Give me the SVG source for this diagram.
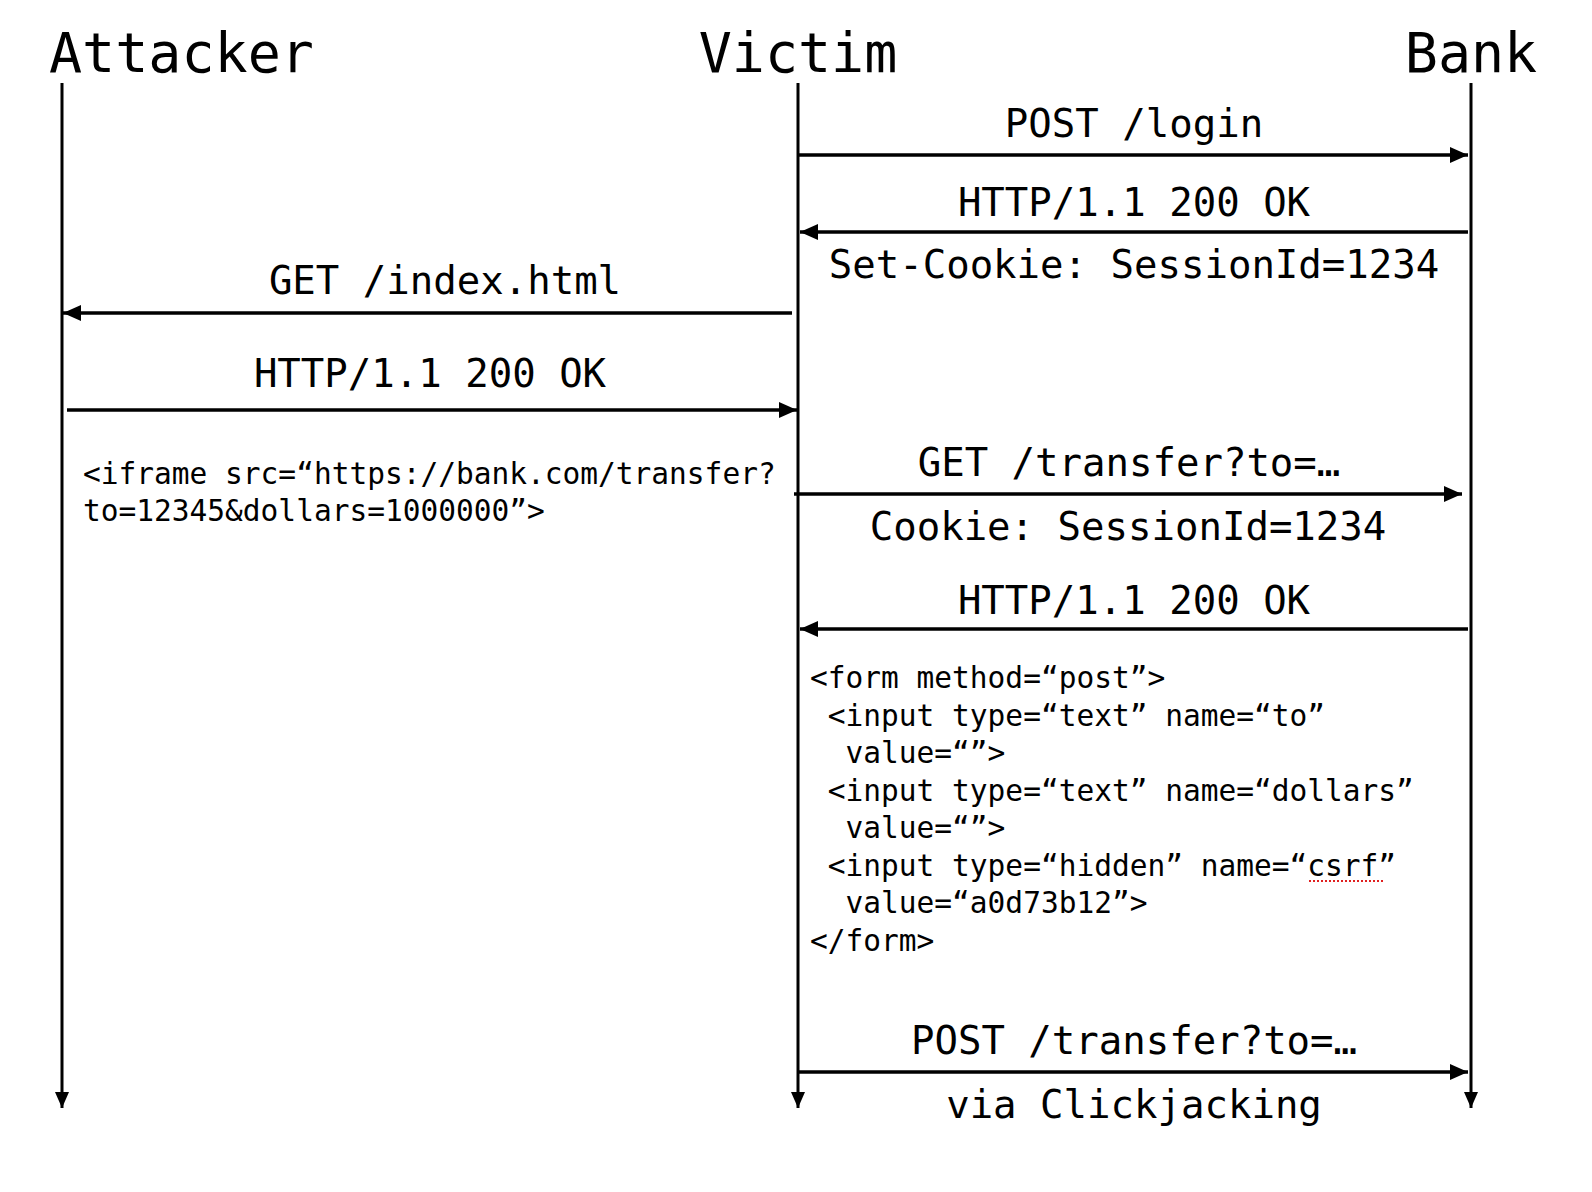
<svg xmlns="http://www.w3.org/2000/svg" width="1592" height="1192" viewBox="0 0 1592 1192">
<style>
  text { font-family: "DejaVu Sans Mono", "Liberation Mono", monospace; fill: #000; }
  .title { font-size: 55px; }
  .msg { font-size: 39px; text-anchor: middle; }
  .code { font-size: 29.5px; white-space: pre; }
  .life { stroke: #000; stroke-width: 3; fill: none; }
  .arrow { stroke: #000; stroke-width: 3.3; fill: none; }
</style>
<defs>
  <marker id="mh" markerUnits="userSpaceOnUse" markerWidth="18" markerHeight="16" refX="18" refY="8" orient="auto">
    <path d="M0,0 L18,8 L0,16 z" fill="#000"/>
  </marker>
  <marker id="lh" markerUnits="userSpaceOnUse" markerWidth="16" markerHeight="14" refX="16" refY="7" orient="auto">
    <path d="M0,0 L16,7 L0,14 z" fill="#000"/>
  </marker>
</defs>
<rect width="1592" height="1192" fill="#fff"/>

<g id="attacker">
  <text class="title" x="49" y="72">Attacker</text>
  <line class="life" x1="62" y1="83" x2="62" y2="1108" marker-end="url(#lh)"/>
</g>
<g id="victim">
  <text class="title" x="798" y="72" text-anchor="middle">Victim</text>
  <line class="life" x1="798" y1="83" x2="798" y2="1108" marker-end="url(#lh)"/>
</g>
<g id="bank">
  <text class="title" x="1471" y="72" text-anchor="middle">Bank</text>
  <line class="life" x1="1471" y1="83" x2="1471" y2="1108" marker-end="url(#lh)"/>
</g>

<g id="connectors">
  <line class="arrow" x1="798" y1="155" x2="1468" y2="155" marker-end="url(#mh)"/>
  <line class="arrow" x1="1468" y1="232" x2="800" y2="232" marker-end="url(#mh)"/>
  <line class="arrow" x1="792" y1="313" x2="63" y2="313" marker-end="url(#mh)"/>
  <line class="arrow" x1="67" y1="410" x2="797" y2="410" marker-end="url(#mh)"/>
  <line class="arrow" x1="794" y1="494" x2="1462" y2="494" marker-end="url(#mh)"/>
  <line class="arrow" x1="1468" y1="629" x2="800" y2="629" marker-end="url(#mh)"/>
  <line class="arrow" x1="798" y1="1072" x2="1468" y2="1072" marker-end="url(#mh)"/>
</g>

<g id="labels">
  <text class="msg" x="1134" y="137">POST /login</text>
  <text class="msg" x="1134" y="216">HTTP/1.1 200 OK</text>
  <text class="msg" x="1134" y="278">Set-Cookie: SessionId=1234</text>
  <text class="msg" x="445" y="294">GET /index.html</text>
  <text class="msg" x="430" y="387">HTTP/1.1 200 OK</text>
  <text class="msg" x="1129" y="476">GET /transfer?to=…</text>
  <text class="msg" x="1128" y="540">Cookie: SessionId=1234</text>
  <text class="msg" x="1134" y="614">HTTP/1.1 200 OK</text>
  <text class="msg" x="1134" y="1054">POST /transfer?to=…</text>
  <text class="msg" x="1134" y="1118">via Clickjacking</text>
</g>

<g id="iframe-code">
  <text class="code" x="83" y="484">&lt;iframe src=“https://bank.com/transfer?</text>
  <text class="code" x="83" y="521">to=12345&amp;dollars=1000000”&gt;</text>
</g>

<g id="form-code">
  <text class="code" x="810" y="688">&lt;form method=“post”&gt;</text>
  <text class="code" x="810" y="726"> &lt;input type=“text” name=“to”</text>
  <text class="code" x="810" y="763">  value=“”&gt;</text>
  <text class="code" x="810" y="801"> &lt;input type=“text” name=“dollars”</text>
  <text class="code" x="810" y="838">  value=“”&gt;</text>
  <text class="code" x="810" y="876"> &lt;input type=“hidden” name=“csrf”</text>
  <text class="code" x="810" y="913">  value=“a0d73b12”&gt;</text>
  <text class="code" x="810" y="951">&lt;/form&gt;</text>
  <line x1="1309" y1="881" x2="1383" y2="881" stroke="#e02020" stroke-width="2" stroke-dasharray="2,2"/>
</g>
</svg>
